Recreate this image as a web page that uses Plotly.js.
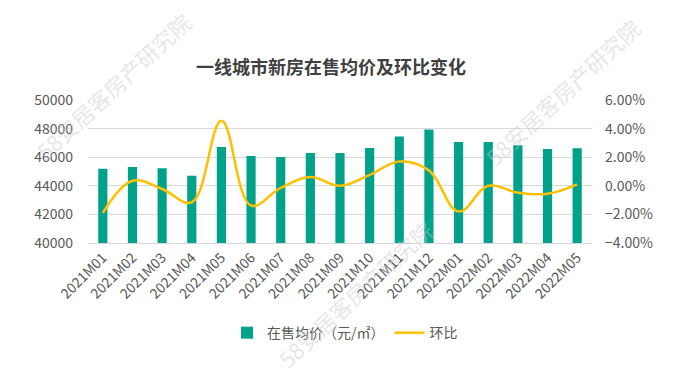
<!DOCTYPE html>
<html>
<head>
<meta charset="utf-8">
<script src="https://cdn.plot.ly/plotly-3.0.1.min.js"></script>
<style>html,body{margin:0;padding:0;background:#fff;}#chart{width:692px;height:379px;}</style>
</head>
<body>
<div id="chart"></div>
<script>
const months = ["2021M01","2021M02","2021M03","2021M04","2021M05","2021M06","2021M07","2021M08","2021M09","2021M10","2021M11","2021M12","2022M01","2022M02","2022M03","2022M04","2022M05"];
const avgPrice = [45190, 45320, 45220, 44700, 46720, 46090, 46020, 46300, 46300, 46650, 47440, 47930, 47070, 47070, 46840, 46580, 46630];
const momChange = [-0.019, 0.0035, -0.0022, -0.0115, 0.0455, -0.0138, -0.0015, 0.0062, 0.0, 0.0076, 0.017, 0.0108, -0.018, 0.0, -0.0048, -0.0056, 0.001];
const seriesNames = ["在售均价（元/㎡）", "环比"];
const chartTitle = "一线城市新房在售均价及环比变化";
const watermark = "58安居客房产研究院";

const FONT = '"Noto Sans CJK SC", "Noto Sans", sans-serif';
const GRAY = '#595959';

const traces = [
  {
    type: 'bar', x: months, y: avgPrice, name: seriesNames[0],
    marker: {color: '#00A38A'}, yaxis: 'y', hoverinfo: 'x+y'
  },
  {
    type: 'scatter', mode: 'lines', x: months, y: momChange, name: seriesNames[1],
    line: {color: '#FFC000', width: 2.5, shape: 'spline', smoothing: 1.1}, yaxis: 'y2'
  }
];

function wm(x, y) {
  return {text: watermark, xref: 'paper', yref: 'paper', x: x, y: y, xanchor: 'center', yanchor: 'middle',
    showarrow: false, textangle: -43,
    font: {family: FONT, size: 22, color: 'rgba(200,200,200,0.45)'}};
}
function px(xp, yp) { return wm((xp - 88) / 504, (243 - yp) / 143); }

const layout = {
  width: 692, height: 379,
  margin: {l: 88, r: 100, t: 100, b: 136},
  paper_bgcolor: '#fff', plot_bgcolor: '#fff',
  font: {family: FONT, size: 14, color: GRAY},
  title: {text: '<b>' + chartTitle + '</b>', font: {family: FONT, size: 18, color: '#404040'},
    x: 331 / 692, xanchor: 'center', y: 1 - 68 / 379, yanchor: 'middle', xref: 'container', yref: 'container'},
  bargap: 0.69,
  showlegend: true,
  legend: {orientation: 'h', x: 0.51, xanchor: 'center', y: -0.63, yanchor: 'middle',
    font: {family: FONT, size: 14, color: GRAY}, itemwidth: 30, traceorder: 'normal'},
  xaxis: {
    type: 'category', tickangle: -45, tickfont: {family: FONT, size: 14, color: GRAY},
    showgrid: false, showline: true, linecolor: '#d9d9d9', linewidth: 1, ticks: '', zeroline: false
  },
  yaxis: {
    range: [40000, 50000], dtick: 2000, tick0: 40000, showgrid: true, gridcolor: '#d9d9d9', gridwidth: 1,
    zeroline: false, showline: false, ticks: '', tickfont: {family: FONT, size: 14, color: GRAY},
    tickformat: 'd', ticklabelstandoff: 14
  },
  yaxis2: {
    overlaying: 'y', side: 'right', range: [-0.04, 0.06], dtick: 0.02, tick0: -0.04, tickformat: '.2%',
    showgrid: false, zeroline: false, showline: false, ticks: '', tickfont: {family: FONT, size: 14, color: GRAY},
    ticklabelstandoff: 12
  },
  annotations: [px(113, 86), px(562, 92), px(355, 294)]
};

Plotly.newPlot('chart', traces, layout, {displayModeBar: false, staticPlot: true});
</script>
</body>
</html>
